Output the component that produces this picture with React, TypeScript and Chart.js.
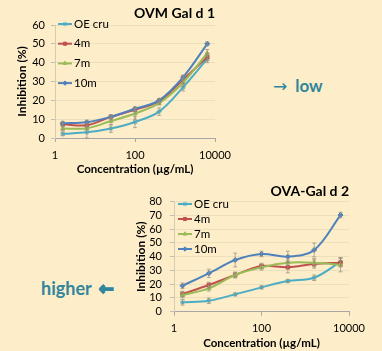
import React, { useEffect, useRef } from "react";
import { Chart, registerables } from "chart.js";
import { drawPoint } from "chart.js/helpers";

Chart.register(...registerables);

// ---------- data ----------
const concentrations = [1.5625, 6.25, 25, 100, 400, 1600, 6400];
const seriesNames = ["OE cru", "4m", "7m", "10m"];
const seriesColors = ["#4BACC6", "#C0504D", "#9BBB59", "#4F81BD"];
const seriesMarkers = ["star", "rect", "triangle", "rectRot"];
const xTickValues = [1, 100, 10000];

// OVM Gal d 1
const ovmOEcru = [2.2, 3, 5, 8.5, 14, 27, 42];
const ovm4m = [7.3, 6.8, 11.2, 15, 19.5, 31, 43];
const ovm7m = [5, 5.2, 9, 13, 18.5, 29.5, 45];
const ovm10m = [7.8, 8.4, 11.2, 15.5, 20, 32.3, 50];
const ovmErrOEcru = [1, 3, 2, 3, 2, 2, 2];
const ovmErr4m = [1, 1, 1, 1, 1, 2, 2];
const ovmErr7m = [1, 1, 2, 3, 1, 2, 2];
const ovmErr10m = [1, 1, 1, 1, 1, 1, 1];
const ovmYMax = 60;

// OVA-Gal d 2
const ovaOEcru = [6.8, 8, 12.6, 17.7, 22.3, 24.7, 36.4];
const ova4m = [12.9, 19.4, 26.7, 33.2, 32.3, 34.7, 35.6];
const ova7m = [12.1, 17, 26.7, 32.3, 35.6, 35.6, 34];
const ova10m = [18.9, 27.9, 37.6, 42, 40, 44.9, 70.3];
const ovaErrOEcru = [2, 2, 1, 1, 1, 2, 3];
const ovaErr4m = [2, 2, 2, 2, 4, 3, 3];
const ovaErr7m = [2, 2, 2, 2, 2, 3, 5];
const ovaErr10m = [2, 3, 5, 2, 4, 5, 2];
const ovaYMax = 80;

const FONT = 'Lato, "Open Sans", sans-serif';
const BG = "#FDEEC9";
const TEAL = "#31859C";

Chart.defaults.font.family = FONT;

const errorBarPlugin = {
  id: "errorBars",
  afterDatasetsDraw(chart: any) {
    const ctx = chart.ctx;
    const yScale = chart.scales.y;
    chart.data.datasets.forEach((ds: any, i: number) => {
      if (!ds.errors) return;
      const meta = chart.getDatasetMeta(i);
      ctx.save();
      ctx.strokeStyle = "rgba(150,140,120,0.7)";
      ctx.lineWidth = 1;
      meta.data.forEach((pt: any, j: number) => {
        const v = ds.data[j].y;
        const e = ds.errors[j];
        const yt = yScale.getPixelForValue(v + e);
        const yb = yScale.getPixelForValue(v - e);
        ctx.beginPath();
        ctx.moveTo(pt.x, yt);
        ctx.lineTo(pt.x, yb);
        ctx.moveTo(pt.x - 2, yt);
        ctx.lineTo(pt.x + 2, yt);
        ctx.moveTo(pt.x - 2, yb);
        ctx.lineTo(pt.x + 2, yb);
        ctx.stroke();
      });
      ctx.restore();
    });
  },
};

const insideLegendPlugin = {
  id: "insideLegend",
  afterDraw(chart: any, _args: any, opts: any) {
    if (!opts || opts.x === undefined) return;
    const ctx = chart.ctx;
    ctx.save();
    ctx.font = `${opts.fontSize}px ${FONT}`;
    ctx.textBaseline = "middle";
    ctx.textAlign = "left";
    chart.data.datasets.forEach((ds: any, i: number) => {
      const cy = opts.y + i * opts.rowHeight;
      ctx.strokeStyle = ds.borderColor;
      ctx.lineWidth = 2;
      ctx.beginPath();
      ctx.moveTo(opts.x, cy);
      ctx.lineTo(opts.x + opts.lineLength, cy);
      ctx.stroke();
      ctx.fillStyle = ds.borderColor;
      ctx.strokeStyle = ds.borderColor;
      ctx.lineWidth = 1;
      drawPoint(
        ctx,
        { pointStyle: ds.pointStyle, radius: 2.2, borderWidth: 1, rotation: 0 } as any,
        opts.x + opts.lineLength / 2,
        cy
      );
      ctx.fillStyle = "#000";
      ctx.fillText(ds.label, opts.x + opts.lineLength + 2, cy);
    });
    ctx.restore();
  },
};

function makeDatasets(values: number[][], errors: number[][]) {
  return seriesNames.map((name, i) => ({
    label: name,
    data: concentrations.map((c, j) => ({ x: c, y: values[i][j] })),
    errors: errors[i],
    borderColor: seriesColors[i],
    backgroundColor: seriesColors[i],
    pointBackgroundColor: seriesColors[i],
    pointBorderColor: seriesColors[i],
    pointStyle: seriesMarkers[i],
    pointRadius: 2.5,
    pointBorderWidth: 1,
    borderWidth: 2,
    tension: 0.35,
    order: seriesNames.length - i,
  }));
}

interface Cfg {
  title: string;
  values: number[][];
  errors: number[][];
  yMax: number;
  width: number;
  height: number;
  padRight: number;
  titlePad: { top: number; bottom: number };
  yWidth: number;
  xHeight: number;
  yTickPad: number;
  yTitlePad: number;
  xTickPad: number;
  xTitlePad: number;
  legend: { x: number; y: number; rowHeight: number; lineLength: number; fontSize: number };
}

function buildConfig(c: Cfg): any {
  return {
    type: "line",
    data: { datasets: makeDatasets(c.values, c.errors) },
    plugins: [errorBarPlugin, insideLegendPlugin],
    options: {
      responsive: false,
      animation: false,
      devicePixelRatio: 1,
      layout: { padding: { left: 0, top: 0, right: c.padRight, bottom: 0 } },
      plugins: {
        legend: { display: false },
        tooltip: { enabled: false },
        title: {
          display: true,
          text: c.title,
          align: "end",
          color: "#000",
          font: { size: 14, weight: "bold", family: FONT },
          padding: c.titlePad,
        },
        insideLegend: c.legend,
      },
      scales: {
        x: {
          type: "logarithmic",
          min: 1,
          max: 10000,
          afterBuildTicks: (s: any) => {
            s.ticks = xTickValues.map((v) => ({ value: v }));
          },
          afterFit: (s: any) => {
            s.height = c.xHeight;
          },
          ticks: {
            autoSkip: false,
            maxRotation: 0,
            color: "#000",
            font: { size: 11, family: FONT },
            padding: c.xTickPad,
            callback: (v: any) => String(v),
          },
          grid: { drawOnChartArea: false, color: "#A6A6A6", tickLength: 4 },
          border: { color: "#A6A6A6", width: 1 },
          title: {
            display: true,
            text: "Concentration (µg/mL)",
            color: "#000",
            font: { size: 11.5, weight: "bold", family: FONT },
            padding: { top: 0, bottom: c.xTitlePad },
          },
        },
        y: {
          type: "linear",
          min: 0,
          max: c.yMax,
          afterFit: (s: any) => {
            s.width = c.yWidth;
          },
          ticks: {
            stepSize: 10,
            autoSkip: false,
            color: "#000",
            font: { size: 11, family: FONT },
            padding: c.yTickPad,
          },
          grid: { color: "#EBDFBC", tickColor: "#BFBFBF", tickLength: 4 },
          border: { color: "#D8CCA8", width: 1 },
          title: {
            display: true,
            text: "Inhibition (%)",
            color: "#000",
            font: { size: 12, weight: "bold", family: FONT },
            padding: { top: c.yTitlePad, bottom: 0 },
          },
        },
      },
    },
  };
}

const chart1: Cfg = {
  title: "OVM Gal d 1",
  values: [ovmOEcru, ovm4m, ovm7m, ovm10m],
  errors: [ovmErrOEcru, ovmErr4m, ovmErr7m, ovmErr10m],
  yMax: ovmYMax,
  width: 240,
  height: 178,
  padRight: 25,
  titlePad: { top: 5, bottom: 3.2 },
  yWidth: 55,
  xHeight: 40,
  yTickPad: 6,
  yTitlePad: 14.5,
  xTickPad: 6.4,
  xTitlePad: 1.8,
  legend: { x: 58, y: 24, rowHeight: 19.7, lineLength: 14, fontSize: 11.5 },
};

const chart2: Cfg = {
  title: "OVA-Gal d 2",
  values: [ovaOEcru, ova4m, ova7m, ova10m],
  errors: [ovaErrOEcru, ovaErr4m, ovaErr7m, ovaErr10m],
  yMax: ovaYMax,
  width: 257,
  height: 171,
  padRight: 33,
  titlePad: { top: 3.3, bottom: 1.6 },
  yWidth: 49,
  xHeight: 39.3,
  yTickPad: 8,
  yTitlePad: 8.8,
  xTickPad: 6,
  xTitlePad: 0.8,
  legend: { x: 53, y: 24, rowHeight: 15, lineLength: 14, fontSize: 11.5 },
};

function ChartBox({ cfg, left, top }: { cfg: Cfg; left: number; top: number }) {
  const ref = useRef<HTMLCanvasElement | null>(null);
  useEffect(() => {
    if (!ref.current) return;
    const ch = new Chart(ref.current, buildConfig(cfg));
    return () => ch.destroy();
  }, [cfg]);
  return (
    <canvas
      ref={ref}
      width={cfg.width}
      height={cfg.height}
      style={{ position: "absolute", left, top, width: cfg.width, height: cfg.height }}
    />
  );
}

export default function App() {
  return (
    <div
      style={{
        position: "absolute",
        left: 0,
        top: 0,
        width: 382,
        height: 351,
        background: BG,
        overflow: "hidden",
        fontFamily: FONT,
      }}
    >
      <ChartBox cfg={chart1} left={0} top={0} />
      <ChartBox cfg={chart2} left={125} top={180} />
      <div
        style={{
          position: "absolute",
          left: 273,
          top: 75,
          lineHeight: "22px",
          fontSize: 17,
          color: TEAL,
          whiteSpace: "nowrap",
        }}
      >
        <span style={{ fontFamily: '"DejaVu Sans", sans-serif', fontWeight: 400 }}>→</span>
        <span style={{ fontWeight: 700, marginLeft: 8 }}>low</span>
      </div>
      <div
        style={{
          position: "absolute",
          left: 41,
          top: 277,
          lineHeight: "22px",
          fontSize: 18,
          color: TEAL,
          whiteSpace: "nowrap",
        }}
      >
        <span style={{ fontWeight: 700 }}>higher</span>
        <span
          style={{
            fontFamily: '"DejaVu Sans", sans-serif',
            fontWeight: 700,
            marginLeft: 7,
            WebkitTextStroke: "1.5px " + TEAL,
          }}
        >
          ←
        </span>
      </div>
    </div>
  );
}
